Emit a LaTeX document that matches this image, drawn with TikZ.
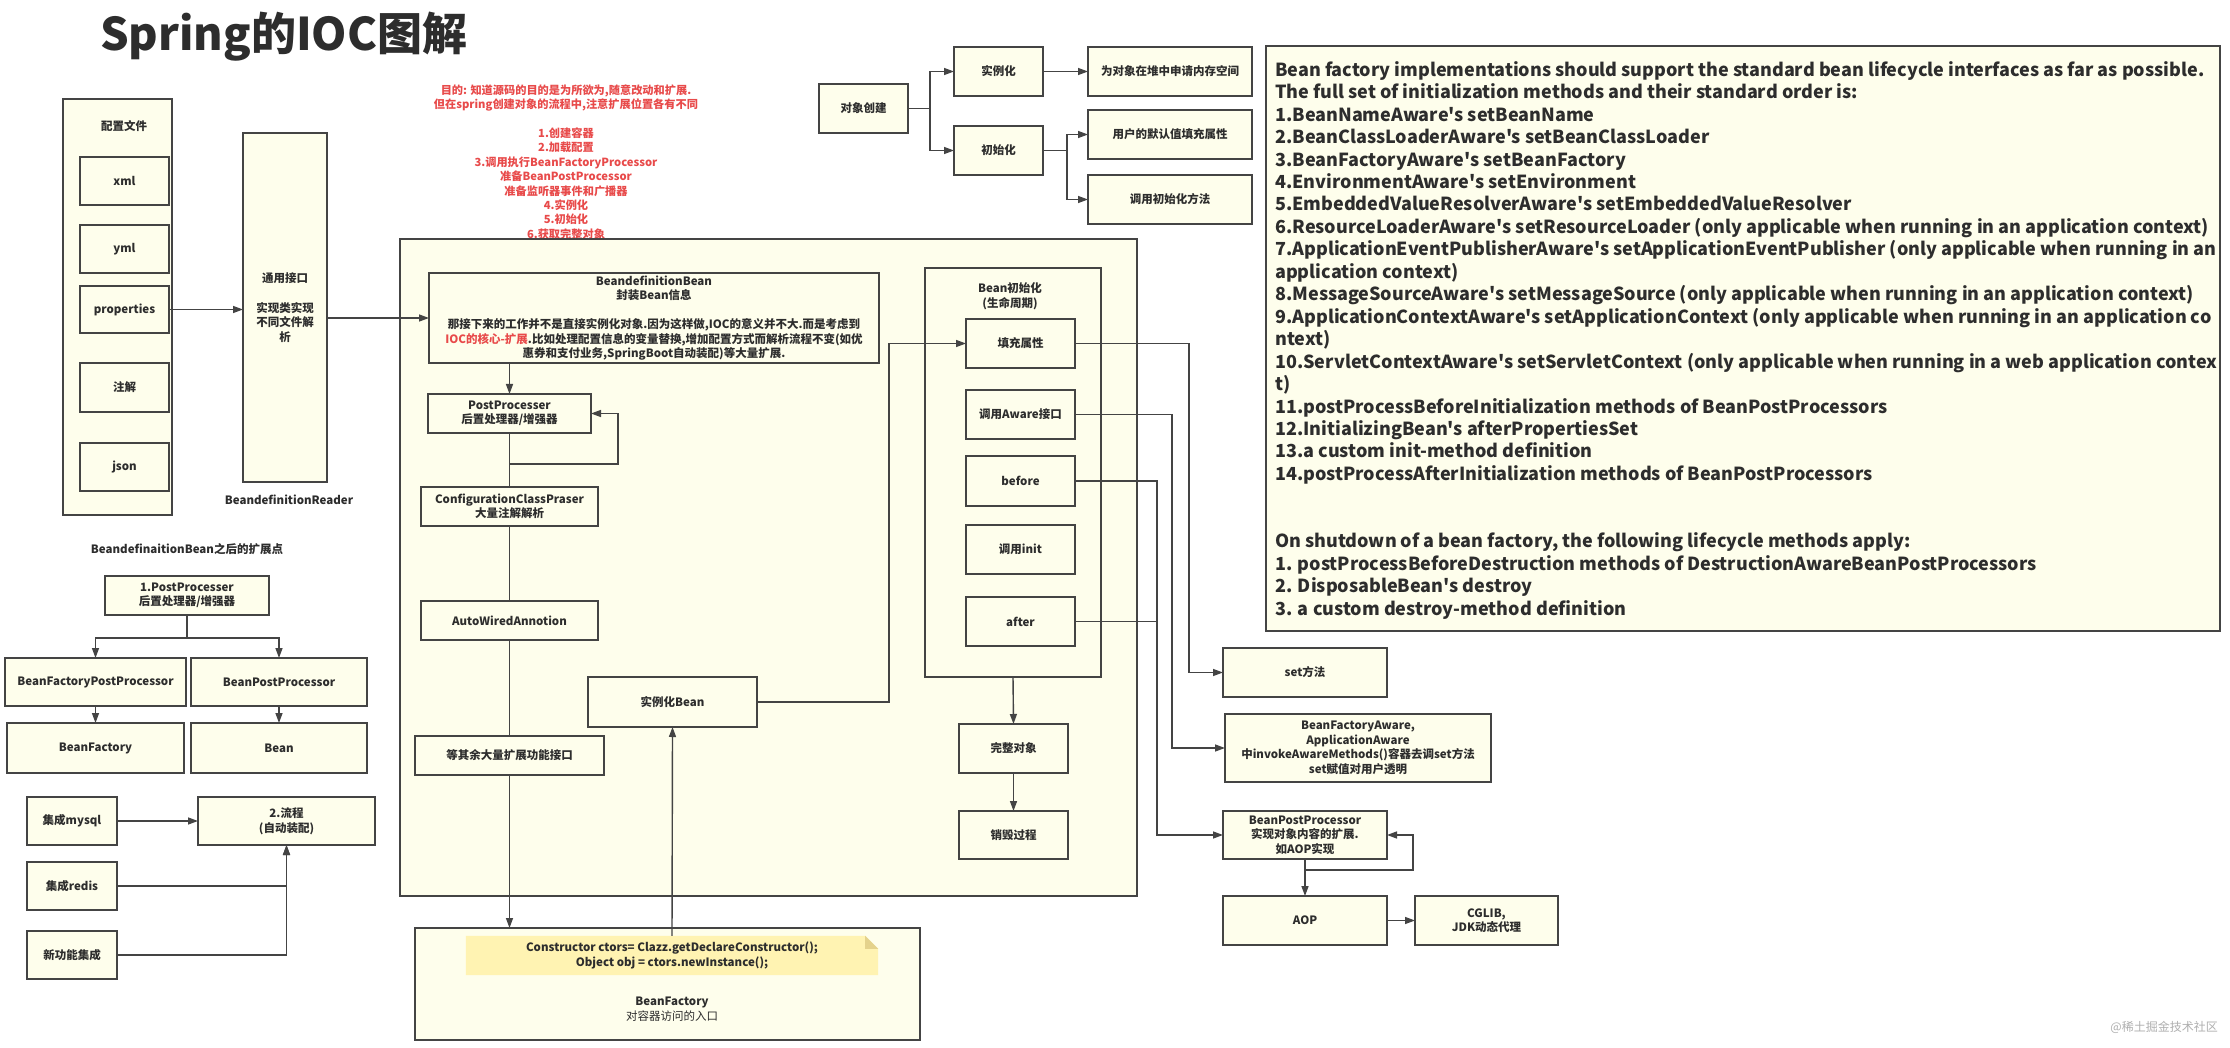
\documentclass[tikz,border=0pt]{standalone}
\usepackage{fontspec}
\setmainfont{Noto Sans CJK SC}[Ligatures=TeXOff]
\usetikzlibrary{arrows.meta,calc}
\definecolor{cream}{RGB}{254,254,236}
\definecolor{bd}{RGB}{68,68,68}
\definecolor{tx}{RGB}{45,45,45}
\definecolor{redt}{RGB}{232,74,74}
\definecolor{notef}{RGB}{255,243,178}
\definecolor{notefold}{RGB}{228,210,140}
\definecolor{wm}{RGB}{175,175,175}
\newcommand{\mybox}[7][]{\node[box,minimum width={(#5-#3)*1pt},minimum height={(#6-#4)*1pt},#1] (#2) at ({(#3+#5)/2},{(#4+#6)/2}) {#7};}
\begin{document}
\begin{tikzpicture}[x=1pt,y=-1pt,
  box/.style={draw=bd,fill=cream,line width=1.5pt,text=tx,font=\bfseries\fontsize{11.5}{14.5}\selectfont,align=center,inner sep=0pt,outer sep=0pt},
  arr/.style={draw=bd,line width=1.4pt,-{Triangle[length=10pt,width=7pt]}},
  ln/.style={draw=bd,line width=1.4pt},
  lbl/.style={text=tx,font=\bfseries\fontsize{11.5}{14.5}\selectfont,align=center,inner sep=0pt}]
\useasboundingbox[fill=white] (0,0) rectangle (2230,1048);

% title
\node[anchor=west,inner sep=0pt,text=tx,font=\bfseries\fontsize{45}{54}\selectfont] (title) at (100,37) {Spring的IOC图解};

% red goal text (drawn before the big box, which covers its last line)
\node[text=redt,font=\bfseries\fontsize{11.2}{14.4}\selectfont,align=center,inner sep=0pt] (goal) at (566,162)
 {目的: 知道源码的目的是为所欲为,随意改动和扩展.\\但在spring创建对象的流程中,注意扩展位置各有不同\\[14.4pt]1.创建容器\\2.加载配置\\3.调用执行BeanFactoryProcessor\\准备BeanPostProcessor\\准备监听器事件和广播器\\4.实例化\\5.初始化\\6.获取完整对象};

% config files
\mybox{cfg}{63}{99}{172}{515}{}
\node[lbl] (cfglbl) at (124,126) {配置文件};
\mybox{xml}{80}{157}{169}{205}{xml}
\mybox{yml}{80}{225}{169}{273}{yml}
\mybox{prop}{80}{286}{169}{333}{properties}
\mybox{anno}{80}{363}{169}{412}{注解}
\mybox{json}{80}{443}{169}{491}{json}
\mybox{rdr}{243}{133}{327}{482}{通用接口\\[15pt]实现类实现\\不同文件解\\析}
\node[lbl] (rdrlbl) at (289,500) {BeandefinitionReader};

% object creation
\mybox{objc}{819}{84}{908}{133}{对象创建}
\mybox{inst}{954}{47}{1043}{96}{实例化}
\mybox{init}{954}{126}{1043}{175}{初始化}
\mybox{heap}{1088}{47}{1252}{96}{为对象在堆中申请内存空间}
\mybox{fillv}{1088}{110}{1252}{159}{用户的默认值填充属性}
\mybox{callinit}{1088}{175}{1252}{224}{调用初始化方法}

% description box
\mybox{desc}{1266}{46}{2220}{631}{}
\node[anchor=north west,inner sep=0pt,align=left,text=tx,font=\bfseries\fontsize{18}{22.46}\selectfont] (desctext) at (1275,61) {%
Bean factory implementations should support the standard bean lifecycle interfaces as far as possible.\\
The full set of initialization methods and their standard order is:\\
1.BeanNameAware's setBeanName\\
2.BeanClassLoaderAware's setBeanClassLoader\\
3.BeanFactoryAware's setBeanFactory\\
4.EnvironmentAware's setEnvironment\\
5.EmbeddedValueResolverAware's setEmbeddedValueResolver\\
6.ResourceLoaderAware's setResourceLoader (only applicable when running in an application context)\\
7.ApplicationEventPublisherAware's setApplicationEventPublisher (only applicable when running in an\\
application context)\\
8.MessageSourceAware's setMessageSource (only applicable when running in an application context)\\
9.ApplicationContextAware's setApplicationContext (only applicable when running in an application co\\
ntext)\\
10.ServletContextAware's setServletContext (only applicable when running in a web application contex\\
t)\\
11.postProcessBeforeInitialization methods of BeanPostProcessors\\
12.InitializingBean's afterPropertiesSet\\
13.a custom init-method definition\\
14.postProcessAfterInitialization methods of BeanPostProcessors\\[44.92pt]
On shutdown of a bean factory, the following lifecycle methods apply:\\
1. postProcessBeforeDestruction methods of DestructionAwareBeanPostProcessors\\
2. DisposableBean's destroy\\
3. a custom destroy-method definition};

% big box
\mybox{big}{400}{239}{1137}{896}{}
\mybox{bdb}{429}{273}{879}{363}{BeandefinitionBean\\封装Bean信息\\[14.5pt]%
那接下来的工作并不是直接实例化对象.因为这样做,IOC的意义并不大.而是考虑到\\%
{\color{redt}IOC的核心-扩展}.比如处理配置信息的变量替换,增加配置方式而解析流程不变(如优\\%
惠券和支付业务,SpringBoot自动装配)等大量扩展.}
\mybox{pp}{428}{394}{591}{433}{PostProcesser\\后置处理器/增强器}
\mybox{ccp}{421}{487}{598}{526}{ConfigurationClassPraser\\大量注解解析}
\mybox{aw}{421}{601}{598}{640}{AutoWiredAnnotion}
\mybox{rest}{415}{736}{604}{775}{等其余大量扩展功能接口}
\mybox{ib}{588}{677}{757}{727}{实例化Bean}
\mybox{binit}{925}{268}{1101}{677}{}
\node[lbl] (binitlbl) at (1010,296) {Bean初始化\\(生命周期)};
\mybox{f1}{966}{319}{1075}{368}{填充属性}
\mybox{f2}{966}{390}{1075}{439}{调用Aware接口}
\mybox{f3}{966}{456}{1075}{506}{before}
\mybox{f4}{966}{525}{1075}{574}{调用init}
\mybox{f5}{966}{597}{1075}{646}{after}
\mybox{whole}{959}{724}{1068}{773}{完整对象}
\mybox{destroy}{959}{811}{1068}{859}{销毁过程}

% right column
\mybox{setm}{1223}{648}{1387}{697}{set方法}
\mybox{bfa}{1225}{714}{1491}{782}{BeanFactoryAware,\\ApplicationAware\\中invokeAwareMethods()容器去调set方法\\set赋值对用户透明}
\mybox{bpp}{1223}{811}{1387}{859}{BeanPostProcessor\\实现对象内容的扩展.\\如AOP实现}
\mybox{aop}{1223}{896}{1387}{945}{AOP}
\mybox{cglib}{1415}{896}{1558}{945}{CGLIB,\\JDK动态代理}

% bottom-left extension points
\node[lbl] (extlbl) at (187,549) {BeandefinaitionBean之后的扩展点};
\mybox{pp1}{105}{576}{269}{615}{1.PostProcesser\\后置处理器/增强器}
\mybox{bfpp}{5}{658}{186}{706}{BeanFactoryPostProcessor}
\mybox{bpp2}{191}{658}{367}{706}{BeanPostProcessor}
\mybox{bfac}{7}{723}{184}{773}{BeanFactory}
\mybox{bean}{191}{723}{367}{773}{Bean}
\mybox{mysql}{27}{797}{117}{845}{集成mysql}
\mybox{flow}{198}{797}{375}{845}{2.流程\\(自动装配)}
\mybox{redis}{27}{862}{117}{910}{集成redis}
\mybox{newf}{27}{931}{117}{979}{新功能集成}

% bean factory box with note
\mybox{bf}{415}{928}{920}{1040}{}
\node[inner sep=0pt,minimum width=412pt,minimum height=39pt] (note) at (672,955.5) {};
\fill[notef] (note.north west) -- ($(note.north east)+(-13,0)$) -- ($(note.north east)+(0,13)$) -- (note.south east) -- (note.south west) -- cycle;
\fill[notefold] ($(note.north east)+(-13,0)$) -- ($(note.north east)+(-13,13)$) -- ($(note.north east)+(0,13)$) -- cycle;
\node[lbl] (notetext) at (note.center) {Constructor ctors= Clazz.getDeclareConstructor();\\Object obj = ctors.newInstance();};
\node[text=tx,align=center,inner sep=0pt,font=\fontsize{11.5}{14.5}\selectfont] (bflbl) at (672,1009) {\textbf{BeanFactory}\\对容器访问的入口};

% watermark
\node[anchor=east,text=wm,inner sep=0pt,font=\fontsize{12}{14}\selectfont] (wmk) at (2218,1027) {@稀土掘金技术社区};

% helper coordinates
\coordinate (cxa) at (1189,0);
\coordinate (cxb) at (1172,0);
\coordinate (cxc) at (1157,0);
\coordinate (pploop) at (618,464);
\coordinate (bpploop) at (1413,870);

% connectors
\draw[arr] (prop.east) -- (prop.east -| rdr.west);
\draw[arr] (rdr.east |- bdb.west) -- (bdb.west);
\draw[arr] (objc.east) -- ++(22,0) |- (inst.west);
\draw[arr] (objc.east) -- ++(22,0) |- (init.west);
\draw[arr] (inst.east) -- (heap.west);
\draw[arr] (init.east) -- ++(24,0) |- (fillv.west);
\draw[arr] (init.east) -- ++(24,0) |- (callinit.west);

\draw[arr] (pp.north |- bdb.south) -- (pp.north);
\draw[arr] (pp.south) |- (pploop) |- (pp.east);
\draw[ln] (pp.south) -- (ccp.north);
\draw[ln] (ccp.south) -- (aw.north);
\draw[ln] (aw.south) -- (rest.north);
\draw[arr] (rest.south) -- (rest.south |- bf.north);
\draw[arr] (note.north) -- (ib.south);
\draw[arr] (ib.east) -- ++(132,0) |- (f1.west);
\draw[arr] (binit.south) -- (whole.north);
\draw[arr] (whole.south) -- (destroy.north);

\draw[arr] (f1.east) -| (cxa |- setm.west) -- (setm.west);
\draw[arr] (f2.east) -| (cxb |- bfa.west) -- (bfa.west);
\draw[arr] (f3.east) -| (cxc |- bpp.west) -- (bpp.west);
\draw[ln] (f5.east) -- (cxc |- f5.east);
\draw[arr] (bpp.south) |- (bpploop) |- (bpp.east);
\draw[arr] (bpp.south) -- (aop.north);
\draw[arr] (aop.east) -- (cglib.west);

\draw[arr] (pp1.south) -- ++(0,23) -| (bfpp.north);
\draw[arr] (pp1.south) -- ++(0,23) -| (bpp2.north);
\draw[arr] (bfpp.south) -- (bfac.north);
\draw[arr] (bpp2.south) -- (bean.north);
\draw[arr] (mysql.east) -- (flow.west);
\draw[arr] (redis.east) -| (flow.south);
\draw[arr] (newf.east) -| (flow.south);
\end{tikzpicture}
\end{document}
